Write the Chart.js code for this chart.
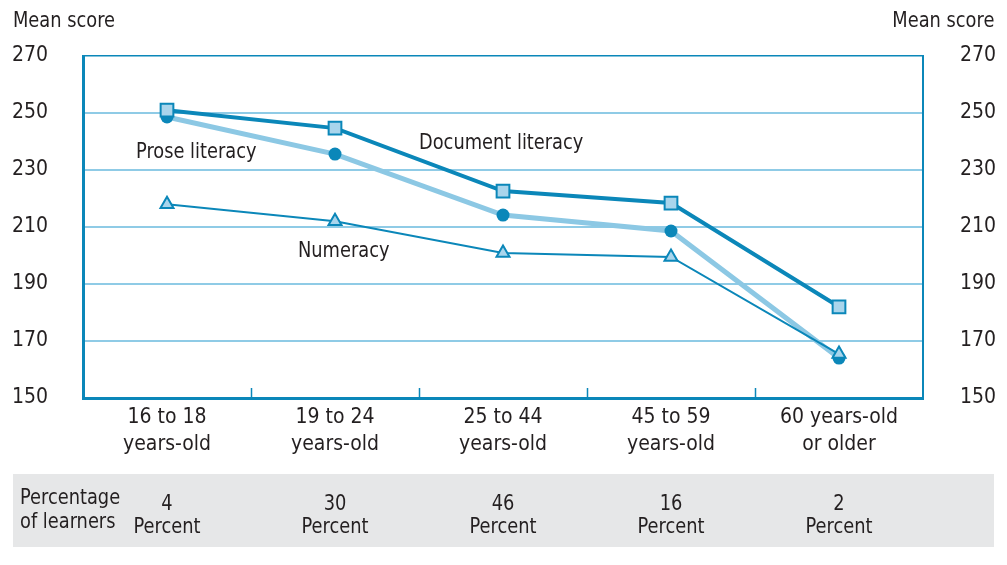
<!DOCTYPE html>
<html><head><meta charset="utf-8">
<script src="https://cdn.jsdelivr.net/npm/chart.js@4/dist/chart.umd.min.js"></script>
<style>
html,body{margin:0;padding:0;background:#fff;}
#wrap{position:relative;width:1007px;height:565px;font-family:'Liberation Sans Narrow','DejaVu Sans Condensed',sans-serif;color:#231f20;}
canvas{position:absolute;left:0;top:0;}
.t{position:absolute;font-size:22px;white-space:nowrap;line-height:24px;transform-origin:0 50%;transform:scaleX(0.9);}
.c{transform-origin:50% 50%;transform:translateX(-50%) scaleX(0.9);text-align:center;}
.r{transform-origin:100% 50%;}
#band{position:absolute;left:13px;top:474px;width:981px;height:73px;background:#e6e7e8;}
</style></head><body>
<div id="wrap">
<div id="band"></div>
<canvas id="cv" width="1007" height="565"></canvas>
</div>
<script>
const categories = [["16 to 18","years-old"],["19 to 24","years-old"],["25 to 44","years-old"],["45 to 59","years-old"],["60 years-old","or older"]];
const documentLiteracy = [251, 244.7, 222.6, 218.4, 182];
const proseLiteracy = [248.6, 235.6, 214.2, 208.6, 164];
const numeracy = [218, 212, 200.9, 199.5, 165.4];
const percentLearners = ["4","30","46","16","2"];
const yTicks = [150,170,190,210,230,250,270];

const DARK = '#0b87b9', LIGHT = '#8cc8e4', FILL = '#a9d5ec', GRID = '#8fcbe6';
const FONT = "'Liberation Sans Narrow','DejaVu Sans Condensed',sans-serif";

const innerTicks = {
  id:'innerTicks',
  afterDatasetsDraw(chart){
    const x = chart.scales.x, ctx = chart.ctx, b = chart.chartArea.bottom;
    ctx.save(); ctx.strokeStyle = DARK; ctx.lineWidth = 1.5;
    for(let i=0;i<categories.length-1;i++){
      const px = Math.round((x.getPixelForValue(i)+x.getPixelForValue(i+1))/2)+0.5;
      ctx.beginPath(); ctx.moveTo(px,b); ctx.lineTo(px,b-10); ctx.stroke();
    }
    ctx.restore();
  }
};

const chart = new Chart(document.getElementById('cv'), {
  type:'line',
  data:{
    labels: categories,
    datasets:[
      {label:'Document literacy', data:documentLiteracy, borderColor:DARK, borderWidth:4,
       pointStyle:'rect', pointRadius:9, pointBackgroundColor:FILL, pointBorderColor:DARK, pointBorderWidth:2, order:0},
      {label:'Numeracy', data:numeracy, borderColor:DARK, borderWidth:2,
       pointStyle:'triangle', pointRadius:7.5, pointBackgroundColor:FILL, pointBorderColor:DARK, pointBorderWidth:2, order:1},
      {label:'Prose literacy', data:proseLiteracy, borderColor:LIGHT, borderWidth:5,
       pointStyle:'circle', pointRadius:6.5, pointBackgroundColor:DARK, pointBorderColor:DARK, pointBorderWidth:0, order:2}
    ]
  },
  options:{
    responsive:false, animation:false,
    layout:{padding:{top:56,left:0,right:0,bottom:0}},
    plugins:{legend:{display:false},tooltip:{enabled:false}},
    elements:{line:{tension:0}},
    scales:{
      x:{type:'category', offset:true,
         grid:{display:false, drawTicks:false},
         border:{display:true, color:DARK, width:3},
         ticks:{color:'#231f20', font:{family:FONT,size:21,lineHeight:1.3}, padding:6, maxRotation:0, autoSkip:false},
         afterFit(s){ s.height = 167; }},
      y:{position:'left', min:150, max:270,
         afterBuildTicks(s){ s.ticks = yTicks.map(v=>({value:v})); },
         grid:{drawTicks:false,
               color:(c)=> c.tick && c.tick.value===270 ? DARK : (c.tick && c.tick.value===150 ? 'rgba(0,0,0,0)' : GRID),
               lineWidth:(c)=> c.tick && c.tick.value===270 ? 1.5 : 2},
         border:{display:true, color:DARK, width:3},
         ticks:{color:'#231f20', font:{family:FONT,size:21}, padding:35},
         afterFit(s){ s.width = 83; }},
      y2:{position:'right', min:150, max:270,
         afterBuildTicks(s){ s.ticks = yTicks.map(v=>({value:v})); },
         grid:{display:false, drawTicks:false},
         border:{display:true, color:DARK, width:2},
         ticks:{color:'#231f20', font:{family:FONT,size:21}, padding:37},
         afterFit(s){ s.width = 84; }}
    }
  },
  plugins:[innerTicks]
});

const wrap = document.getElementById('wrap');
function addText(txt, x, y, center){
  const d = document.createElement('div');
  d.className = 't' + (center ? ' c' : '');
  d.textContent = txt;
  d.style.left = x + 'px';
  d.style.top = (y - 12) + 'px';
  wrap.appendChild(d);
}
const xs = chart.scales.x, ys = chart.scales.y;
addText('Mean score', 13, 20, false);
const ms = document.createElement('div');
ms.className='t r'; ms.textContent='Mean score'; ms.style.right=(1007-994)+'px'; ms.style.top='8px';
wrap.appendChild(ms);
addText('Prose literacy', xs.getPixelForValue(0) - 31, ys.getPixelForValue(236.7), false);
addText('Document literacy', xs.getPixelForValue(2) - 84, ys.getPixelForValue(239.8), false);
addText('Numeracy', xs.getPixelForValue(1) - 37, ys.getPixelForValue(201.9), false);
addText('Percentage', 20, 497, false);
addText('of learners', 20, 521, false);
percentLearners.forEach((p,i)=>{
  addText(p, xs.getPixelForValue(i), 503, true);
  addText('Percent', xs.getPixelForValue(i), 526, true);
});
</script>
</body></html>
